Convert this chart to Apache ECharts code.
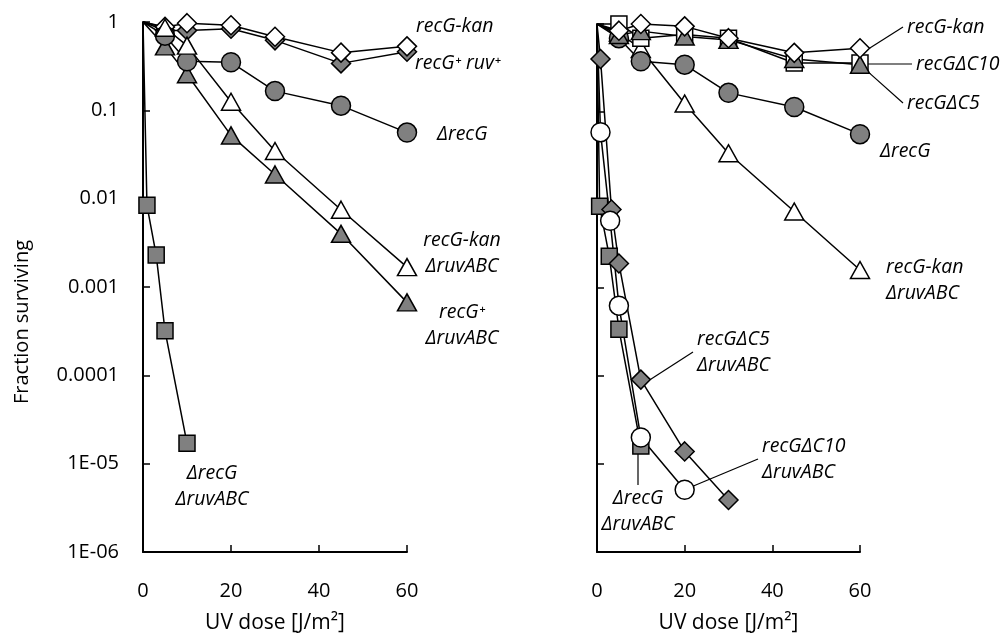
<!DOCTYPE html>
<html>
<head>
<meta charset="utf-8">
<script src="https://cdn.jsdelivr.net/npm/echarts@6/dist/echarts.min.js"></script>
<style>
html,body{margin:0;padding:0;background:#fff;}
#chart{width:1003px;height:639px;}
</style>
</head>
<body>
<div id="chart"></div>
<script>
// ---------- DATA ----------
const doses = [0, 5, 10, 20, 30, 45, 60];
const xTickLabels = ['0', '20', '40', '60'];
const yTickLabels = ['1E-06', '1E-05', '0.0001', '0.001', '0.01', '0.1', '1'];

// Left panel
const L_recGkan        = [1, 0.88, 0.97, 0.92, 0.68, 0.45, 0.53];
const L_recGruv        = [1, 0.80, 0.80, 0.84, 0.62, 0.34, 0.46];
const L_dRecG          = [1, 0.70, 0.36, 0.35, 0.165, 0.113, 0.056];
const L_recGkanRuv     = [1, 0.86, 0.54, 0.125, 0.0346, 0.0075, 0.00168];
const L_recGplusRuv    = [1, 0.53, 0.256, 0.052, 0.0188, 0.0040, 0.00067];
const L_dRecGRuvDoses  = [0, 0.9, 3, 5, 10];
const L_dRecGRuv       = [1, 0.0084, 0.0023, 0.00032, 1.7e-5];

// Right panel
const R_recGkan        = [1, 0.84, 1.0, 0.94, 0.69, 0.47, 0.53];
const R_recGdC10       = [1, 1.0, 0.69, 0.76, 0.69, 0.36, 0.36];
const R_recGdC5        = [1, 0.75, 0.83, 0.72, 0.66, 0.40, 0.345];
const R_dRecG          = [1, 0.69, 0.377, 0.345, 0.165, 0.114, 0.056];
const R_recGkanRuv     = [1, 0.80, 0.52, 0.125, 0.034, 0.0074, 0.0016];
const R_dC5RuvDoses    = [0, 0.8, 3.3, 5, 10, 20, 30];
const R_dC5Ruv         = [1, 0.40, 0.0078, 0.0019, 9.1e-5, 1.39e-5, 3.9e-6];
const R_dC10RuvDoses   = [0, 0.8, 3, 5, 10, 20];
const R_dC10Ruv        = [1, 0.059, 0.0058, 0.00063, 2.0e-5, 5.1e-6];
const R_dRecGRuvDoses  = [0, 0.6, 2.8, 5, 10];
const R_dRecGRuv       = [1, 0.0085, 0.0023, 0.00034, 1.6e-5];

// ---------- STYLE ----------
const GRAY = '#808080';
const FONT = '"Open Sans", "DejaVu Sans", sans-serif';
const SYM = {
  diamond: {symbol: 'diamond', size: [19, 19]},
  circle: {symbol: 'circle', size: 19},
  triangle: {symbol: 'triangle', size: [19, 17]},
  square: {symbol: 'rect', size: 16}
};

function mk(xs, ys, panel, shape, fill, lab) {
  const data = xs.map((x, i) => {
    const item = {value: [x, ys[i]]};
    if (i === 0) item.symbol = 'none';
    if (lab && i === lab.index) {
      item.label = {
        show: true,
        formatter: lab.text,
        fontFamily: FONT,
        fontStyle: 'italic',
        fontSize: 19.5,
        lineHeight: 26,
        color: '#000',
        padding: [0, 4, 0, 4],
        align: lab.align || 'left'
      };
      item.labelLine = {show: !!lab.line, lineStyle: {color: '#000', width: 1.2}};
    }
    return item;
  });
  const s = {
    type: 'line',
    xAxisIndex: panel, yAxisIndex: panel,
    data: data,
    symbol: SYM[shape].symbol,
    symbolSize: SYM[shape].size,
    showAllSymbol: true,
    clip: false,
    lineStyle: {color: '#000', width: 1.5},
    itemStyle: {color: fill, borderColor: '#000', borderWidth: 1.5},
    emphasis: {disabled: true},
    animation: false
  };
  if (lab) {
    s.labelLayout = {x: lab.x, y: lab.y, align: lab.align || 'left', verticalAlign: 'middle'};
  }
  return s;
}

const series = [
  // left panel
  mk(doses, L_recGruv, 0, 'diamond', GRAY, {index: 6, text: 'recG⁺ ruv⁺', x: 411, y: 63}),
  mk(doses, L_recGkan, 0, 'diamond', '#fff', {index: 6, text: 'recG-kan', x: 412, y: 26}),
  mk(doses, L_recGplusRuv, 0, 'triangle', GRAY, {index: 6, text: 'recG⁺\nΔruvABC', x: 462, y: 325, align: 'center'}),
  mk(doses, L_dRecG, 0, 'circle', GRAY, {index: 6, text: 'ΔrecG', x: 433, y: 134}),
  mk(doses, L_recGkanRuv, 0, 'triangle', '#fff', {index: 6, text: 'recG-kan\nΔruvABC', x: 462, y: 253, align: 'center'}),
  mk(L_dRecGRuvDoses, L_dRecGRuv, 0, 'square', GRAY, {index: 4, text: 'ΔrecG\nΔruvABC', x: 212, y: 486, align: 'center'}),
  // right panel
  mk(doses, R_recGkanRuv, 1, 'triangle', '#fff', {index: 6, text: 'recG-kan\nΔruvABC', x: 882, y: 280}),
  mk(doses, R_dRecG, 1, 'circle', GRAY, {index: 6, text: 'ΔrecG', x: 876, y: 151}),
  mk(doses, R_recGdC10, 1, 'square', '#fff', {index: 6, text: 'recGΔC10', x: 912, y: 64, line: true}),
  mk(doses, R_recGdC5, 1, 'triangle', GRAY, {index: 6, text: 'recGΔC5', x: 903, y: 103, line: true}),
  mk(doses, R_recGkan, 1, 'diamond', '#fff', {index: 6, text: 'recG-kan', x: 903, y: 27, line: true}),
  mk(R_dRecGRuvDoses, R_dRecGRuv, 1, 'square', GRAY, {index: 4, text: 'ΔrecG\nΔruvABC', x: 638, y: 511, align: 'center', line: true}),
  mk(R_dC5RuvDoses, R_dC5Ruv, 1, 'diamond', GRAY, {index: 4, text: 'recGΔC5\nΔruvABC', x: 693, y: 352, line: true}),
  mk(R_dC10RuvDoses, R_dC10Ruv, 1, 'circle', '#fff', {index: 5, text: 'recGΔC10\nΔruvABC', x: 758, y: 459, line: true})
];

function xAxis(gi) {
  return {
    type: 'value', gridIndex: gi, min: 0, max: 60, interval: 20,
    axisLine: {lineStyle: {color: '#000', width: 2}},
    axisTick: {inside: true, length: 7, lineStyle: {color: '#000', width: 1.5}},
    axisLabel: {
      margin: 29, color: '#000', fontFamily: FONT, fontSize: 20,
      formatter: v => xTickLabels[Math.round(v / 20)]
    },
    splitLine: {show: false},
    name: 'UV dose [J/m²]', nameLocation: 'middle', nameGap: 61,
    nameTextStyle: {color: '#000', fontFamily: FONT, fontSize: 21}
  };
}
function yAxis(gi, showLabels) {
  return {
    type: 'log', logBase: 10, gridIndex: gi, min: 1e-6, max: 1, splitNumber: 6,
    axisLine: {show: true, lineStyle: {color: '#000', width: 2}},
    axisTick: {show: true, inside: true, length: 7, lineStyle: {color: '#000', width: 1.5}},
    axisLabel: {
      show: showLabels, margin: 24, color: '#000', fontFamily: FONT, fontSize: 20,
      formatter: v => yTickLabels[Math.round(Math.log10(v)) + 6]
    },
    minorTick: {show: false},
    splitLine: {show: false}
  };
}

const chart = echarts.init(document.getElementById('chart'), null, {renderer: 'canvas'});
chart.setOption({
  animation: false,
  backgroundColor: '#fff',
  grid: [
    {left: 143, top: 22, width: 264, height: 530},
    {left: 597, top: 24, width: 263, height: 529}
  ],
  xAxis: [xAxis(0), xAxis(1)],
  yAxis: [yAxis(0, true), yAxis(1, false)],
  graphic: [{
    type: 'text', x: 22, y: 322, rotation: Math.PI / 2,
    style: {text: 'Fraction surviving', fill: '#000', font: '20px ' + FONT, align: 'center', verticalAlign: 'middle'}
  }],
  series: series
});
</script>
</body>
</html>
